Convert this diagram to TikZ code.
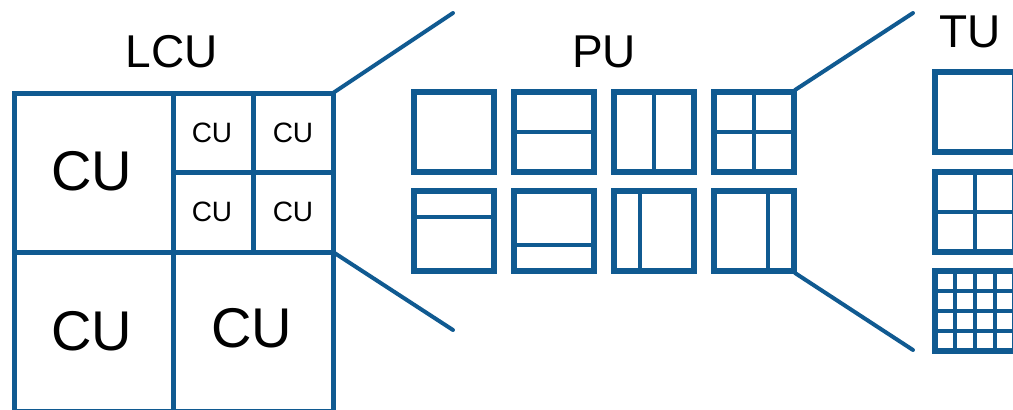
\documentclass[tikz,border=0pt]{standalone}
\usepackage{fontspec}
\setmainfont{Liberation Sans}
\begin{document}
\begin{tikzpicture}[x=1pt,y=-1pt,
  every node/.style={inner sep=0pt, outer sep=0pt, text=black},
  frame/.style={draw=cublue, line width=5pt},
  pubox/.style={draw=cublue, line width=6pt},
  split/.style={draw=cublue, line width=4.5pt},
  fine/.style={draw=cublue, line width=3.5pt},
  link/.style={draw=cublue, line width=4pt, line cap=round},
  title/.style={font=\fontsize{46}{50}\selectfont, anchor=base},
  bigcu/.style={font=\fontsize{56}{60}\selectfont, anchor=base},
  smallcu/.style={font=\fontsize{28}{32}\selectfont, anchor=base}]
\definecolor{cublue}{RGB}{16,90,145}
\useasboundingbox (0,0) rectangle (1013,410);
\clip (0,0) rectangle (1013,410);

% ---- LCU quadtree ----
\draw[frame] (14,93) rectangle (333,411);
\draw[frame] (173,93) -- (173,411);
\draw[frame] (14,252) -- (333,252);
\draw[frame] (253,93) -- (253,252);
\draw[frame] (173,172) -- (333,172);
\coordinate (lcuTR) at (333,93);
\coordinate (lcuMR) at (333,252);

\node[title] (lcu) at (171.5,67) {LCU};
\node[bigcu] (cu1) at (92,190) {CU};
\node[bigcu] (cu2) at (92,350) {CU};
\node[bigcu] (cu3) at (252,347) {CU};
\node[smallcu] (cu4) at (212,142) {CU};
\node[smallcu] (cu5) at (293,142) {CU};
\node[smallcu] (cu6) at (212,221) {CU};
\node[smallcu] (cu7) at (293,221) {CU};

% ---- PU partitions ----
\node[title] (pu) at (604,67) {PU};
% first row
\draw[pubox] (414,92) rectangle (494,172);
\draw[pubox] (514,92) rectangle (594,172);
\draw[split] (514,132) -- (594,132);
\draw[pubox] (614,92) rectangle (694,172);
\draw[split] (654,92) -- (654,172);
\draw[pubox] (714,92) rectangle (794,172);
\draw[split] (754,92) -- (754,172);
\draw[split] (714,132) -- (794,132);
% second row (asymmetric)
\draw[pubox] (414,191) rectangle (494,271);
\draw[split] (414,217) -- (494,217);
\draw[pubox] (514,191) rectangle (594,271);
\draw[split] (514,245) -- (594,245);
\draw[pubox] (614,191) rectangle (694,271);
\draw[split] (640,191) -- (640,271);
\draw[pubox] (714,191) rectangle (794,271);
\draw[split] (768,191) -- (768,271);
\coordinate (puTR) at (795,90);
\coordinate (puBR) at (795,273);

% ---- TU partitions ----
\node[title] (tu) at (970,47) {TU};
\draw[pubox] (935,72) rectangle (1015,152);
\draw[pubox] (935,172) rectangle (1015,252);
\draw[split] (975,172) -- (975,252);
\draw[split] (935,212) -- (1015,212);
\draw[pubox] (935,271) rectangle (1015,351);
\foreach \k in {1,2,3} {
  \draw[fine] (935+20*\k,271) -- (935+20*\k,351);
  \draw[fine] (935,271+20*\k) -- (1015,271+20*\k);
}

% ---- zoom connectors ----
\coordinate (zA) at (453,13);
\coordinate (zB) at (453,330);
\coordinate (zC) at (913,13);
\coordinate (zD) at (913,350);
\draw[link] (lcuTR) -- (zA);
\draw[link] (lcuMR) -- (zB);
\draw[link] (puTR) -- (zC);
\draw[link] (puBR) -- (zD);
\end{tikzpicture}
\end{document}
